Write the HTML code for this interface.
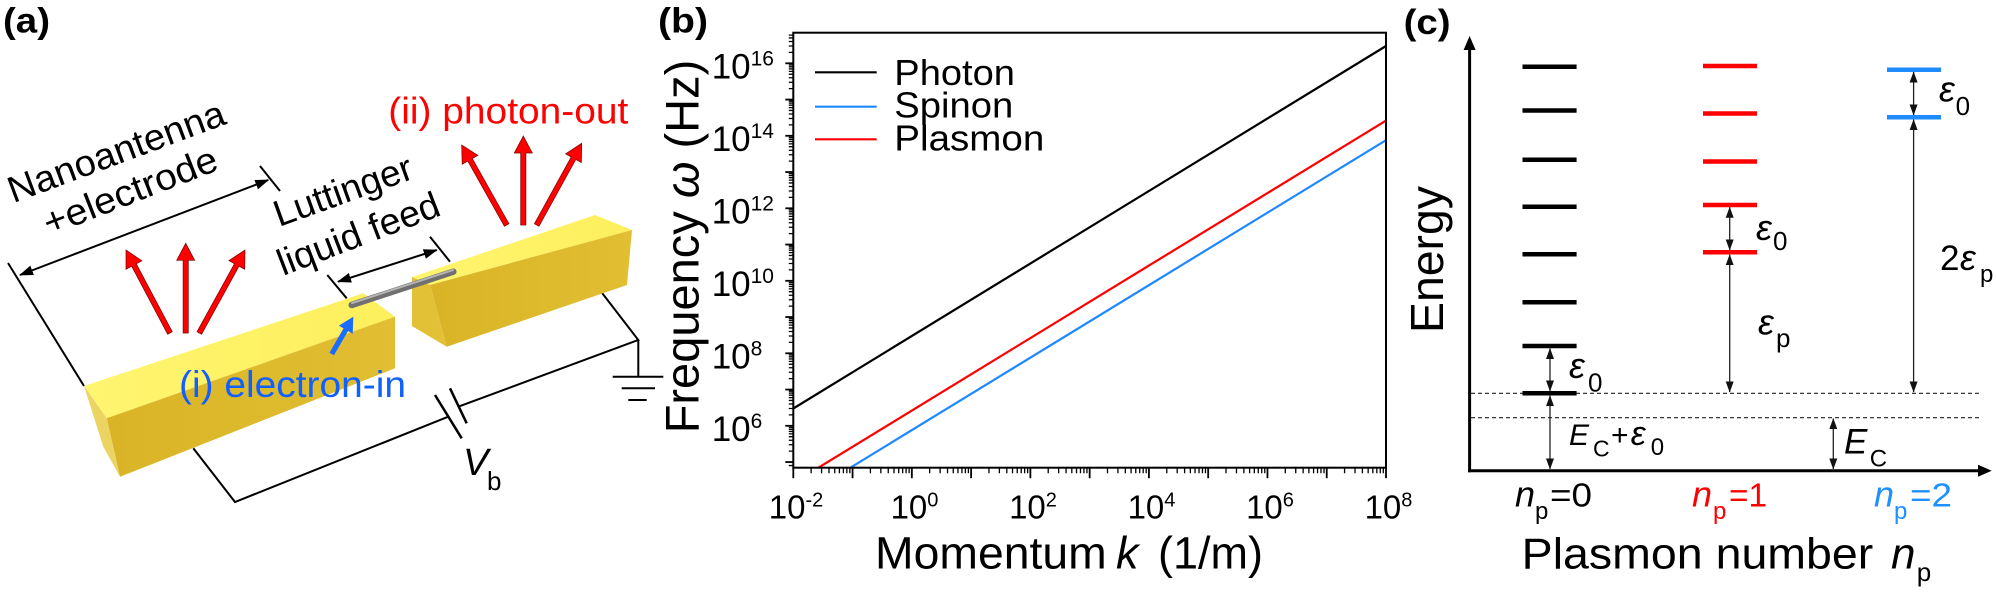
<!DOCTYPE html>
<html><head><meta charset="utf-8"><style>
html,body{margin:0;padding:0;background:#fff;}
svg{display:block;font-family:"Liberation Sans",Arial,sans-serif;}
</style></head><body>
<svg width="1996" height="593" viewBox="0 0 1996 593">
<defs>
<marker id="ha" viewBox="0 0 14 10" refX="13" refY="5" markerWidth="14" markerHeight="10" markerUnits="userSpaceOnUse" orient="auto-start-reverse"><path d="M0,0L14,5L0,10z" fill="#000"/></marker>
<marker id="hc" viewBox="0 0 11 8" refX="10.5" refY="4" markerWidth="11" markerHeight="8" markerUnits="userSpaceOnUse" orient="auto-start-reverse"><path d="M0,0L11,4L0,8z" fill="#111"/></marker>
<linearGradient id="fr" x1="0" y1="0" x2="1" y2="0"><stop offset="0" stop-color="#D9B426"/><stop offset="1" stop-color="#E1BE32"/></linearGradient>
<linearGradient id="tp" x1="0" y1="0" x2="1" y2="0"><stop offset="0" stop-color="#FFF570"/><stop offset="1" stop-color="#FDEF5C"/></linearGradient>
<g id="xd">
<path d="M0,467.7v10.5" stroke="#000" stroke-width="1.8"/>
<path d="M17.84,467.7v5.5M28.28,467.7v5.5M35.68,467.7v5.5M41.43,467.7v5.5M46.12,467.7v5.5M50.09,467.7v5.5M53.53,467.7v5.5M56.56,467.7v5.5" stroke="#000" stroke-width="1.3"/>
</g>
<g id="yd">
<path d="M793.3,0h-8" stroke="#000" stroke-width="1.8"/>
<path d="M793.3,-10.91h-4.5M793.3,-17.3h-4.5M793.3,-21.82h-4.5M793.3,-25.34h-4.5M793.3,-28.21h-4.5M793.3,-30.63h-4.5M793.3,-32.74h-4.5M793.3,-34.59h-4.5" stroke="#000" stroke-width="1.3"/>
</g>
</defs>

<!-- ================= Panel (a) ================= -->
<text x="3" y="32.6" font-size="35" font-weight="bold" textLength="47" lengthAdjust="spacingAndGlyphs">(a)</text>

<g stroke="#000" stroke-width="2" fill="none">
<line x1="8" y1="263" x2="84" y2="386"/>
<line x1="260" y1="166" x2="280" y2="191"/>
<line x1="20" y1="275" x2="268.3" y2="180" marker-start="url(#ha)" marker-end="url(#ha)"/>
<line x1="327.3" y1="275" x2="346.7" y2="298.3"/>
<line x1="430" y1="236.7" x2="450" y2="261.7"/>
<line x1="338" y1="281.7" x2="436.7" y2="250" marker-start="url(#ha)" marker-end="url(#ha)"/>
<polyline points="193.3,448.3 235,502 448.3,416.7"/>
<line x1="435" y1="395" x2="461.7" y2="438.3" stroke-width="2.5"/>
<line x1="450" y1="388.3" x2="466.7" y2="423.3" stroke-width="2.5"/>
<polyline points="458.3,406.7 638.3,340 596.7,286"/>
<line x1="638.3" y1="340" x2="638.3" y2="376.7"/>
<line x1="612.7" y1="376.7" x2="663.3" y2="376.7"/>
<line x1="621.7" y1="388.3" x2="655" y2="388.3"/>
<line x1="628.3" y1="400" x2="646.7" y2="400"/>
</g>

<!-- left bar -->
<polygon points="84,386 363.3,293.3 395,316.7 106.7,418.3" fill="url(#tp)"/>
<polygon points="106.7,418.3 395,316.7 395,368.3 120,476.7" fill="url(#fr)"/>
<polygon points="84,386 106.7,418.3 120,476.7 103.3,446.7" fill="#EBD462"/>
<!-- right bar -->
<polygon points="412,277 595,215 632,230 430,285" fill="url(#tp)"/>
<polygon points="430,285 632,230 627,285 446.7,346.7" fill="url(#fr)"/>
<polygon points="412,277 430,285 446.7,346.7 412,326" fill="#E2C136"/>

<!-- rod -->
<line x1="351.7" y1="305" x2="453.3" y2="271.7" stroke="#707070" stroke-width="6.5" stroke-linecap="round"/>
<line x1="352" y1="303.1" x2="453" y2="270" stroke="#B4B4B4" stroke-width="2" stroke-linecap="round"/>

<!-- red arrows -->
<g fill="#FF0000" stroke="#700" stroke-width="0.7">
<polygon points="172.30,331.78 136.26,263.80 141.91,260.80 126,250 126.01,269.24 131.66,266.24 167.70,334.22"/>
<polygon points="188.3,333 188.3,260.3 194.7,260.3 185.7,243.3 176.7,260.3 183.1,260.3 183.1,333"/>
<polygon points="201.58,334.25 239.08,266.14 244.68,269.23 245,250 228.92,260.55 234.52,263.64 197.02,331.75"/>
<polygon points="508.97,223.73 472.30,158.55 477.88,155.41 461.7,145 462.19,164.23 467.77,161.09 504.43,226.27"/>
<polygon points="525.9,225 525.9,153 532.3,153 523.3,136 514.3,153 520.7,153 520.7,225"/>
<polygon points="538.98,226.25 575.78,159.44 581.38,162.53 581.7,143.3 565.62,153.85 571.22,156.94 534.42,223.75"/>
</g>
<polygon points="333.95,355.30 348.03,330.98 352.70,333.69 353.3,316.7 338.86,325.67 343.53,328.38 329.45,352.70" fill="#1A6CFF"/>

<g font-size="37" fill="#000">
<text transform="translate(13.3,203.3) rotate(-20.4)" textLength="229" lengthAdjust="spacingAndGlyphs">Nanoantenna</text>
<text transform="translate(49,236) rotate(-21.3)" textLength="184" lengthAdjust="spacingAndGlyphs">+electrode</text>
<text transform="translate(279,227) rotate(-19.8)" textLength="145" lengthAdjust="spacingAndGlyphs">Luttinger</text>
<text transform="translate(283,276) rotate(-21)" textLength="171" lengthAdjust="spacingAndGlyphs">liquid feed</text>
<text x="388.3" y="123.3" fill="#FF0000" textLength="240" lengthAdjust="spacingAndGlyphs">(ii) photon-out</text>
<text x="179" y="397" fill="#1060FF" textLength="227" lengthAdjust="spacingAndGlyphs">(i) electron-in</text>
</g>
<text x="463" y="475" font-size="38" font-style="italic">V</text>
<text x="487" y="490" font-size="26">b</text>

<!-- ================= Panel (b) ================= -->
<text x="658" y="32.5" font-size="35" font-weight="bold" textLength="50" lengthAdjust="spacingAndGlyphs">(b)</text>

<g fill="none" stroke-width="2.2">
<line x1="793.3" y1="408.5" x2="1386" y2="46" stroke="#000"/>
<line x1="818.4" y1="467.7" x2="1386" y2="120.6" stroke="#FF0000"/>
<line x1="850.4" y1="467.7" x2="1386" y2="140.2" stroke="#1E88FF"/>
</g>

<!-- x ticks -->
<use href="#xd" x="793.3"/><use href="#xd" x="852.57"/><use href="#xd" x="911.84"/><use href="#xd" x="971.11"/><use href="#xd" x="1030.38"/>
<use href="#xd" x="1089.65"/><use href="#xd" x="1148.92"/><use href="#xd" x="1208.19"/><use href="#xd" x="1267.46"/><use href="#xd" x="1326.73"/>
<path d="M1386,467.7v10.5" stroke="#000" stroke-width="1.8"/>
<!-- y ticks -->
<use href="#yd" y="99.55"/><use href="#yd" y="135.8"/><use href="#yd" y="172.05"/><use href="#yd" y="208.3"/><use href="#yd" y="244.55"/>
<use href="#yd" y="280.8"/><use href="#yd" y="317.05"/><use href="#yd" y="353.3"/><use href="#yd" y="389.55"/><use href="#yd" y="425.8"/><use href="#yd" y="462.05"/>
<path d="M793.3,63.3h-8" stroke="#000" stroke-width="1.8"/>
<path d="M793.3,52.39h-4.5M793.3,46h-4.5M793.3,41.48h-4.5M793.3,37.96h-4.5M793.3,35.09h-4.5M793.3,465.56h-4.5" stroke="#000" stroke-width="1.3"/>

<rect x="793.3" y="32.7" width="592.7" height="435" fill="none" stroke="#000" stroke-width="2"/>

<!-- y tick labels -->
<g font-size="35" fill="#000">
<text x="711.7" y="78.3">10<tspan font-size="21" dy="-13">16</tspan></text>
<text x="711.7" y="150.8">10<tspan font-size="21" dy="-13">14</tspan></text>
<text x="711.7" y="223.3">10<tspan font-size="21" dy="-13">12</tspan></text>
<text x="711.7" y="295.8">10<tspan font-size="21" dy="-13">10</tspan></text>
<text x="711.7" y="368.3">10<tspan font-size="21" dy="-13">8</tspan></text>
<text x="711.7" y="440.8">10<tspan font-size="21" dy="-13">6</tspan></text>
</g>
<!-- x tick labels -->
<g font-size="33" fill="#000" text-anchor="middle">
<text x="796" y="518.3">10<tspan font-size="20" dy="-12">-2</tspan></text>
<text x="914.5" y="518.3">10<tspan font-size="20" dy="-12">0</tspan></text>
<text x="1033" y="518.3">10<tspan font-size="20" dy="-12">2</tspan></text>
<text x="1151.5" y="518.3">10<tspan font-size="20" dy="-12">4</tspan></text>
<text x="1270" y="518.3">10<tspan font-size="20" dy="-12">6</tspan></text>
<text x="1388.5" y="518.3">10<tspan font-size="20" dy="-12">8</tspan></text>
</g>

<!-- legend -->
<g stroke-width="2.2">
<line x1="815" y1="72.3" x2="876.7" y2="72.3" stroke="#000"/>
<line x1="815" y1="106.7" x2="876.7" y2="106.7" stroke="#1E88FF"/>
<line x1="815" y1="139.3" x2="876.7" y2="139.3" stroke="#FF0000"/>
</g>
<g font-size="36" fill="#000">
<text x="894.3" y="85" textLength="120.7" lengthAdjust="spacingAndGlyphs">Photon</text>
<text x="894.3" y="117.5" textLength="119" lengthAdjust="spacingAndGlyphs">Spinon</text>
<text x="894.3" y="150.7" textLength="150" lengthAdjust="spacingAndGlyphs">Plasmon</text>
</g>

<!-- axis labels -->
<text transform="translate(698.3,433.3) rotate(-90)" font-size="47">Frequency <tspan font-style="italic">ω</tspan> (Hz)</text>
<text x="875" y="568.3" font-size="45" textLength="231.7" lengthAdjust="spacingAndGlyphs">Momentum</text>
<text x="1116" y="568.3" font-size="45" font-style="italic">k</text>
<text x="1158" y="568.3" font-size="45">(1/m)</text>

<!-- ================= Panel (c) ================= -->
<text x="1403.6" y="34" font-size="35" font-weight="bold" textLength="47" lengthAdjust="spacingAndGlyphs">(c)</text>

<line x1="1469.6" y1="472.2" x2="1469.6" y2="48" stroke="#000" stroke-width="3"/>
<polygon points="1469.6,36 1463.6,50 1475.6,50" fill="#000"/>
<line x1="1468" y1="470.7" x2="1980" y2="470.7" stroke="#000" stroke-width="3"/>
<polygon points="1991.7,470.7 1978,464.7 1978,476.7" fill="#000"/>

<g stroke="#222" stroke-width="1.2" stroke-dasharray="4 3">
<line x1="1471" y1="393.3" x2="1981" y2="393.3"/>
<line x1="1471" y1="417.7" x2="1981" y2="417.7"/>
</g>

<g stroke-width="4.5">
<g stroke="#000">
<line x1="1522.5" y1="66.7" x2="1576.6" y2="66.7"/>
<line x1="1522.5" y1="110.5" x2="1576.6" y2="110.5"/>
<line x1="1522.5" y1="159.7" x2="1576.6" y2="159.7"/>
<line x1="1522.5" y1="206.7" x2="1576.6" y2="206.7"/>
<line x1="1522.5" y1="254.3" x2="1576.6" y2="254.3"/>
<line x1="1522.5" y1="302.3" x2="1576.6" y2="302.3"/>
<line x1="1522.5" y1="346" x2="1576.6" y2="346"/>
<line x1="1522.5" y1="393.3" x2="1576.6" y2="393.3"/>
</g>
<g stroke="#FF0000">
<line x1="1703" y1="66" x2="1757" y2="66"/>
<line x1="1703" y1="113.5" x2="1757" y2="113.5"/>
<line x1="1703" y1="161.5" x2="1757" y2="161.5"/>
<line x1="1703" y1="205" x2="1757" y2="205"/>
<line x1="1703" y1="252.3" x2="1757" y2="252.3"/>
</g>
<g stroke="#1E8CFF">
<line x1="1887" y1="69.7" x2="1941" y2="69.7"/>
<line x1="1887" y1="117.3" x2="1941" y2="117.3"/>
</g>
</g>

<g stroke="#222" stroke-width="1.3">
<line x1="1550" y1="348.5" x2="1550" y2="391" marker-start="url(#hc)" marker-end="url(#hc)"/>
<line x1="1550" y1="395.7" x2="1550" y2="469" marker-start="url(#hc)" marker-end="url(#hc)"/>
<line x1="1729.7" y1="207.3" x2="1729.7" y2="250" marker-start="url(#hc)" marker-end="url(#hc)"/>
<line x1="1729.7" y1="254.7" x2="1729.7" y2="392" marker-start="url(#hc)" marker-end="url(#hc)"/>
<line x1="1913.6" y1="72" x2="1913.6" y2="115" marker-start="url(#hc)" marker-end="url(#hc)"/>
<line x1="1913.6" y1="119.6" x2="1913.6" y2="392" marker-start="url(#hc)" marker-end="url(#hc)"/>
<line x1="1833.3" y1="418.6" x2="1833.3" y2="469" marker-start="url(#hc)" marker-end="url(#hc)"/>
</g>

<g fill="#000">
<text x="1569" y="378" font-size="36" font-style="italic">ε</text><text x="1588" y="391.7" font-size="26">0</text>
<text x="1756" y="240" font-size="36" font-style="italic">ε</text><text x="1773" y="250" font-size="26">0</text>
<text x="1758" y="334.6" font-size="36" font-style="italic">ε</text><text x="1776" y="347" font-size="26">p</text>
<text x="1939" y="101.7" font-size="36" font-style="italic">ε</text><text x="1955.6" y="115" font-size="26">0</text>
<text x="1940" y="270" font-size="35">2</text><text x="1960" y="270" font-size="36" font-style="italic">ε</text><text x="1980" y="282" font-size="24">p</text>
<text x="1569" y="445" font-size="30" font-style="italic">E</text><text x="1593" y="456.7" font-size="23">C</text>
<text x="1611" y="445" font-size="30">+</text><text x="1630.7" y="445" font-size="34" font-style="italic">ε</text><text x="1650.7" y="455" font-size="24">0</text>
<text x="1844" y="453.3" font-size="35" font-style="italic">E</text><text x="1869.7" y="466.7" font-size="24">C</text>
</g>

<!-- n_p labels -->
<g fill="#000">
<text x="1515" y="506.7" font-size="36" font-style="italic">n</text><text x="1535" y="519" font-size="24">p</text><text x="1550" y="506.7" font-size="33" textLength="42" lengthAdjust="spacingAndGlyphs">=0</text>
</g>
<g fill="#FF0000">
<text x="1692" y="506.7" font-size="36" font-style="italic">n</text><text x="1713" y="519" font-size="24">p</text><text x="1729" y="506.7" font-size="33" textLength="38" lengthAdjust="spacingAndGlyphs">=1</text>
</g>
<g fill="#1E90FF">
<text x="1874" y="506.7" font-size="36" font-style="italic">n</text><text x="1894" y="519" font-size="24">p</text><text x="1910" y="506.7" font-size="33" textLength="42" lengthAdjust="spacingAndGlyphs">=2</text>
</g>

<text x="1521.7" y="568.3" font-size="44" textLength="351.6" lengthAdjust="spacingAndGlyphs">Plasmon number</text>
<text x="1891" y="568.3" font-size="44" font-style="italic">n</text>
<text x="1916.7" y="581" font-size="26">p</text>

<text transform="translate(1443,333) rotate(-90)" font-size="46" textLength="147" lengthAdjust="spacingAndGlyphs">Energy</text>
</svg>
</body></html>
